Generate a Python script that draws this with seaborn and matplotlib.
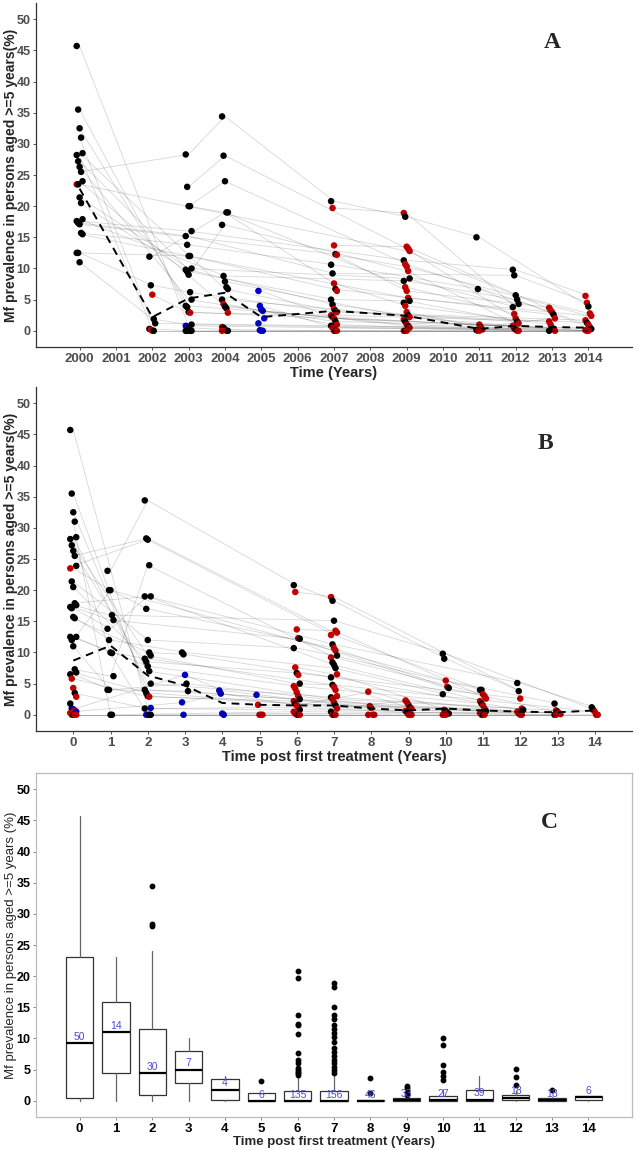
import matplotlib
matplotlib.use("Agg")
import matplotlib.pyplot as plt
import numpy as np
import pandas as pd
import seaborn as sns

# ---------------- Panel A: prevalence by survey year ----------------
a_years = [2000, 2002, 2003, 2004, 2005, 2007, 2009, 2011, 2012, 2013, 2014]
a_vals = [
    [45.7, 35.5, 32.5, 31.0, 28.5, 28.2, 27.2, 26.3, 25.5, 24.0, 23.5, 23.5,
     21.4, 20.5, 17.9, 17.6, 17.3, 17.1, 15.7, 15.5, 12.5, 12.5, 11.0],
    [11.9, 7.3, 5.8, 1.9, 1.2, 0.3, 0.2, 0.0, 0.0],
    [28.3, 23.1, 20.0, 20.0, 16.0, 15.2, 13.8, 12.0, 12.0, 10.0, 9.8, 9.5, 9.0,
     6.2, 5.0, 4.0, 3.8, 3.0, 2.9, 1.0, 0.8, 0.7, 0.5, 0.0, 0.0, 0.0, 0.0],
    [34.4, 28.1, 24.0, 19.0, 19.0, 17.0, 8.8, 7.9, 7.0, 6.7, 5.0, 4.3, 3.9, 3.6,
     2.9, 0.6, 0.5, 0.2, 0.0, 0.0, 0.0],
    [6.4, 4.0, 3.4, 3.2, 2.0, 1.2, 0.1, 0.0, 0.0],
    [20.8, 19.7, 13.7, 12.3, 12.2, 10.6, 9.2, 7.6, 6.7, 6.4, 5.0, 4.2, 3.5, 3.2,
     3.0, 2.5, 2.2, 2.0, 1.5, 1.0, 0.8, 0.5, 0.0, 0.0, 0.0],
    [18.9, 18.3, 13.5, 13.2, 12.8, 11.3, 10.7, 10.3, 9.6, 8.4, 8.0, 7.0, 6.4, 5.3,
     4.8, 4.5, 4.0, 3.0, 2.5, 2.2, 1.8, 1.5, 1.0, 0.8, 0.5, 0.0, 0.0, 0.0],
    [15.0, 6.7, 1.0, 0.6, 0.2, 0.1, 0.0, 0.0],
    [9.8, 8.9, 5.7, 5.0, 4.3, 3.8, 2.7, 2.0, 1.5, 1.2, 0.8, 0.4, 0.2, 0.0, 0.0],
    [3.7, 3.3, 3.0, 2.6, 2.0, 1.5, 1.0, 0.5, 0.3, 0.0, 0.0],
    [5.6, 4.5, 3.9, 2.8, 2.4, 1.7, 1.3, 1.0, 0.6, 0.3, 0.1, 0.0, 0.0],
]
a_cols = [
    "kkkkkkkkkkrkkkkkkkkkkkk",
    "kkrkkkrrk",
    "kkkkkkkkkkkkkkkkkkrkbbkkkkk",
    "kkkkkkkkkkkrkkrrkkrkr",
    "bbbbbbbbb",
    "krrkrkkrkrkkrkrrkrkrkrrkr",
    "rkrrrkrrrkkrrrkkrrkrrkrkrrkr",
    "kkrrrkrr",
    "kkkkkkrrkrrrkrr",
    "rrrkrrrrkrk",
    "rrkrrrkrrkrrr",
]
a_mean = [22.8, 2.2, 5.2, 6.1, 2.2, 3.2, 2.4, 0.3, 0.8, 0.6, 0.5]
a_paths = [
    [(2000, 45.7), (2003, 0.8), (2007, 0.5), (2012, 0.2)],
    [(2000, 35.5), (2003, 3.0), (2009, 1.5), (2014, 0.3)],
    [(2000, 32.5), (2003, 4.0), (2007, 2.2), (2013, 0.3)],
    [(2000, 31.0), (2002, 1.2), (2007, 0.8), (2012, 0.4)],
    [(2000, 28.5), (2004, 6.7), (2007, 3.2), (2012, 1.5)],
    [(2000, 28.2), (2002, 0.3), (2003, 0.0), (2009, 0.0), (2014, 0.0)],
    [(2000, 27.2), (2003, 9.8), (2007, 4.2), (2009, 2.5), (2014, 1.3)],
    [(2000, 26.3), (2003, 5.0), (2007, 1.5), (2012, 0.8)],
    [(2000, 25.5), (2003, 28.3), (2004, 34.4), (2007, 20.8), (2009, 18.3),
     (2011, 15.0), (2014, 3.9)],
    [(2000, 24.0), (2004, 3.9), (2009, 0.8), (2013, 0.0)],
    [(2000, 23.5), (2009, 12.8), (2012, 5.7), (2014, 2.8)],
    [(2000, 21.4), (2003, 10.0), (2009, 8.4), (2012, 3.8)],
    [(2000, 20.5), (2003, 9.5), (2007, 5.0), (2009, 4.8), (2012, 1.5)],
    [(2000, 17.9), (2004, 8.8), (2009, 8.0), (2012, 5.0), (2014, 0.6)],
    [(2000, 17.6), (2003, 16.0), (2009, 11.3), (2012, 9.8), (2014, 5.6)],
    [(2000, 17.3), (2003, 15.2), (2007, 9.2), (2012, 8.9), (2014, 4.5)],
    [(2000, 17.1), (2007, 12.3), (2009, 6.4), (2013, 3.7)],
    [(2000, 15.7), (2003, 13.8), (2007, 10.6), (2011, 6.7), (2012, 4.3)],
    [(2000, 15.5), (2003, 12.0), (2007, 6.7), (2013, 2.6)],
    [(2000, 12.5), (2003, 12.0), (2009, 5.3), (2014, 2.4)],
    [(2000, 12.5), (2002, 7.3), (2003, 6.2), (2007, 3.0), (2014, 1.7)],
    [(2000, 11.0), (2002, 1.9), (2003, 1.0), (2009, 0.5), (2014, 0.1)],
    [(2002, 11.9), (2004, 19.0), (2009, 7.0), (2012, 2.7)],
    [(2002, 5.8), (2003, 2.9), (2007, 2.5), (2013, 1.5)],
    [(2003, 23.1), (2004, 28.1), (2009, 13.2), (2012, 2.0)],
    [(2003, 20.0), (2004, 19.0), (2007, 7.6), (2009, 4.0), (2013, 1.0)],
    [(2003, 20.0), (2004, 24.0), (2009, 10.7), (2014, 1.0)],
    [(2003, 9.0), (2004, 17.0), (2009, 9.6), (2012, 1.2)],
    [(2004, 7.9), (2009, 2.2), (2012, 0.8)],
    [(2004, 5.0), (2007, 3.5), (2011, 1.0), (2014, 0.0)],
    [(2004, 4.3), (2007, 1.0), (2012, 0.0)],
    [(2005, 6.4), (2007, 2.0), (2013, 0.5)],
    [(2005, 4.0), (2007, 0.5), (2011, 0.2)],
    [(2005, 3.2), (2009, 1.0), (2014, 0.0)],
    [(2002, 0.0), (2003, 0.0), (2004, 0.0), (2005, 0.0), (2007, 0.0), (2009, 0.0),
     (2011, 0.0), (2012, 0.0), (2013, 0.0), (2014, 0.0)],
    [(2002, 0.0), (2003, 0.0), (2004, 0.0), (2007, 0.0), (2009, 0.0),
     (2011, 0.0), (2012, 0.0), (2014, 0.0)],
    [(2003, 0.0), (2005, 0.0), (2007, 0.0), (2009, 0.0), (2012, 0.0), (2013, 0.0)],
    [(2003, 0.5), (2004, 0.2), (2007, 0.0), (2011, 0.0), (2014, 0.0)],
    [(2007, 19.7), (2009, 18.9), (2012, 3.8)],
    [(2007, 13.7), (2009, 13.5), (2013, 3.3)],
    [(2007, 12.2), (2009, 10.3), (2014, 2.4)],
    [(2009, 3.0), (2011, 0.6), (2013, 2.0)],
    [(2011, 0.1), (2012, 0.4), (2014, 0.6)],
]

# ---------------- Panel B: prevalence by years since first treatment ----------------
b_times = list(range(15))
b_vals = [
    [45.7, 35.5, 32.5, 31.0, 28.5, 28.2, 27.2, 26.3, 25.5, 23.9, 23.5, 21.4, 20.5,
     17.9, 17.6, 17.3, 17.1, 15.7, 15.5, 12.5, 12.5, 12.0, 11.0, 7.3, 6.8, 6.5,
     5.8, 4.3, 3.5, 2.9, 1.8, 1.0, 0.9, 0.7, 0.5, 0.3, 0.0, 0.0, 0.0, 0.0],
    [23.1, 20.0, 20.0, 16.0, 15.2, 13.8, 12.0, 10.0, 9.9, 6.2, 4.0, 4.0, 0.0, 0.0],
    [34.4, 28.3, 28.1, 24.0, 19.0, 19.0, 17.0, 12.0, 10.0, 9.5, 9.0, 8.5, 7.8,
     7.0, 5.0, 4.0, 3.5, 3.0, 2.9, 1.1, 1.0, 0.0, 0.0, 0.0, 0.0],
    [10.0, 9.7, 6.4, 5.0, 3.8, 2.0, 0.0],
    [3.9, 3.4, 0.2, 0.0],
    [3.2, 1.6, 0.0, 0.0, 0.0],
    [20.8, 19.7, 13.7, 12.3, 12.2, 10.7, 7.6, 6.7, 6.4, 5.0, 4.6, 4.2, 3.6, 3.0,
     2.5, 2.2, 1.8, 1.5, 1.2, 0.8, 0.5, 0.2, 0.0, 0.0, 0.0],
    [18.9, 18.3, 15.1, 13.5, 13.2, 12.8, 11.3, 10.7, 10.3, 9.5, 9.2, 8.4, 8.0,
     7.5, 6.5, 6.0, 4.8, 4.5, 4.0, 3.0, 2.8, 2.5, 2.0, 1.5, 1.0, 0.5, 0.0, 0.0, 0.0],
    [3.7, 1.4, 1.1, 0.0, 0.0, 0.0],
    [2.3, 2.0, 1.6, 1.2, 1.0, 0.6, 0.4, 0.0, 0.0, 0.0],
    [9.8, 9.0, 5.5, 4.5, 4.3, 3.3, 0.8, 0.6, 0.3, 0.2, 0.0, 0.0, 0.0],
    [4.0, 4.0, 3.3, 3.0, 2.6, 2.2, 1.8, 1.5, 1.0, 0.6, 0.3, 0.0, 0.0, 0.0],
    [5.1, 3.8, 2.6, 1.0, 0.8, 0.5, 0.2, 0.0, 0.0],
    [1.8, 0.7, 0.5, 0.3, 0.1, 0.0, 0.0],
    [1.2, 0.8, 0.5, 0.0, 0.0],
]
b_cols = [
    "kkkkkkkkkkrkkkkkkkkkkkkkkkrrkrkkbrbrrkrr",
    "kkkkkkkkkkkkkk",
    "kkkkkkkkkkkkkkkkkkrbkbbkk",
    "kkbkkbb",
    "bbbb",
    "brrrr",
    "krrrkkrkrkrrrrkrkrrkrrrkr",
    "rkkrrrkrrkrkkkrkkrrrkrrkrkrkr",
    "rrrrrr",
    "rrrkrrkrrr",
    "kkrrkkrkrkrrr",
    "kkrrrrkrrkrrkr",
    "kkrrkrrrr",
    "krkrrkr",
    "kkrrr",
]
b_mean = [8.7, 11.1, 6.3, 4.7, 1.9, 1.6, 1.5, 1.5, 1.0, 0.7, 1.0, 0.7, 0.5, 0.4, 0.7]
b_paths = [
    [(0, 45.7), (2, 1.0), (6, 0.8), (11, 0.6)],
    [(0, 35.5), (2, 3.0), (7, 1.5), (13, 0.3)],
    [(0, 32.5), (2, 4.0), (6, 2.5), (12, 0.5)],
    [(0, 31.0), (1, 0.0), (6, 0.5), (11, 0.3)],
    [(0, 28.5), (2, 5.0), (7, 2.8), (12, 1.0)],
    [(0, 28.2), (1, 9.9), (2, 0.0), (7, 0.0), (14, 0.0)],
    [(0, 27.2), (2, 9.5), (6, 5.0), (7, 4.8), (14, 0.5)],
    [(0, 26.3), (2, 7.0), (7, 2.5), (13, 0.7)],
    [(0, 25.5), (2, 28.3), (7, 13.2)],
    [(1, 23.1), (2, 34.4), (6, 20.8), (7, 18.3), (10, 9.0), (12, 3.8)],
    [(0, 23.9), (2, 28.1), (7, 12.8), (11, 4.0)],
    [(0, 23.5), (1, 20.0), (7, 10.3), (10, 5.5), (13, 1.8)],
    [(0, 21.4), (2, 12.0), (6, 10.7), (7, 9.5), (11, 4.0)],
    [(0, 20.5), (2, 8.5), (6, 6.7), (12, 2.6)],
    [(0, 17.9), (2, 19.0), (7, 11.3), (12, 5.1), (14, 1.2)],
    [(0, 17.6), (1, 16.0), (7, 15.1), (10, 9.8), (14, 0.8)],
    [(0, 17.3), (1, 15.2), (6, 12.2), (10, 4.3), (13, 0.5)],
    [(0, 17.1), (1, 13.8), (2, 19.0), (7, 8.0), (11, 2.2)],
    [(0, 15.7), (1, 12.0), (3, 10.0), (7, 7.5), (10, 3.3)],
    [(0, 15.5), (2, 10.0), (3, 9.7), (7, 6.0), (12, 0.8)],
    [(0, 12.5), (1, 10.0), (2, 9.0), (7, 4.8), (9, 1.2)],
    [(0, 12.5), (2, 7.8), (6, 4.6), (11, 1.8)],
    [(0, 12.0), (1, 20.0), (2, 17.0), (7, 10.7), (10, 4.5)],
    [(0, 11.0), (1, 4.0), (3, 5.0), (6, 3.0), (9, 1.0)],
    [(0, 7.3), (1, 6.2), (2, 24.0), (7, 9.2), (11, 3.3)],
    [(0, 6.8), (2, 3.5), (6, 1.8), (10, 0.6)],
    [(0, 6.5), (1, 4.0), (3, 3.8), (7, 2.0), (12, 0.2)],
    [(0, 3.5), (2, 1.0), (6, 1.2), (9, 0.4), (13, 0.0)],
    [(0, 5.8), (2, 2.9), (6, 2.2), (8, 1.4), (11, 1.0)],
    [(0, 0.9), (3, 6.4), (4, 3.9), (5, 3.2), (8, 1.1)],
    [(0, 0.5), (3, 2.0), (4, 3.4), (6, 1.5), (9, 0.6)],
    [(0, 0.0), (1, 0.0), (2, 0.0), (3, 0.0), (4, 0.0), (5, 0.0), (6, 0.0), (7, 0.0),
     (8, 0.0), (9, 0.0), (10, 0.0), (11, 0.0), (12, 0.0), (13, 0.0), (14, 0.0)],
    [(0, 0.0), (2, 0.0), (5, 0.0), (6, 0.0), (7, 0.0), (8, 0.0), (9, 0.0),
     (10, 0.0), (11, 0.0), (12, 0.0), (13, 0.0)],
    [(0, 0.0), (1, 0.0), (2, 0.0), (4, 0.0), (6, 0.0), (7, 0.0), (9, 0.0),
     (10, 0.0), (11, 0.0), (14, 0.0)],
    [(6, 19.7), (7, 18.9), (12, 3.8)],
    [(6, 13.7), (7, 13.5), (11, 3.0)],
    [(6, 7.6), (7, 6.5), (10, 0.8), (13, 0.3)],
    [(7, 1.0), (9, 2.3), (12, 0.5)],
    [(5, 1.6), (6, 1.5), (8, 3.7), (9, 2.0)],
    [(4, 0.2), (6, 0.2), (11, 0.3), (14, 0.5)],
]

# ---------------- Panel C: box summaries by years since first treatment ----------------
c_q1 = [0.5, 4.5, 1.0, 2.9, 0.1, 0.0, 0.0, 0.0, 0.0, 0.0, 0.0, 0.0, 0.1, 0.0, 0.1]
c_med = [9.2, 11.0, 4.4, 5.0, 1.8, 0.0, 0.0, 0.0, 0.0, 0.05, 0.05, 0.2, 0.5, 0.1, 0.6]
c_q3 = [23.0, 15.9, 11.5, 8.0, 3.5, 1.2, 1.55, 1.6, 0.05, 0.4, 0.75, 1.7, 0.9, 0.5, 0.75]
c_whislo = [0.0] * 15
c_whishi = [45.7, 23.1, 24.0, 10.0, 4.0, 1.2, 3.8, 3.9, 0.05, 0.9, 1.8, 4.0, 1.5, 0.6, 0.8]
c_fliers = [
    [], [], [28.0, 28.3, 34.4], [], [], [3.2],
    [4.2, 4.4, 4.7, 5.0, 5.2, 6.0, 6.6, 7.6, 10.7, 12.2, 12.4, 13.8, 19.7, 20.8],
    [4.4, 4.9, 5.4, 6.0, 6.6, 7.2, 7.9, 8.5, 9.5, 10.2, 10.8, 11.5, 12.2, 13.2,
     13.7, 15.1, 18.3, 18.9],
    [1.2, 3.7], [1.0, 1.4, 2.0, 2.3], [3.3, 3.9, 4.6, 5.7, 9.0, 10.0], [],
    [2.6, 3.8, 5.1], [1.8], [],
]
c_n = [50, 14, 30, 7, 4, 6, 135, 156, 46, 33, 27, 39, 18, 18, 6]

ylab_ab = "Mf prevalence in persons aged >=5 years(%)"
ylab_c = "Mf prevalence in persons aged >=5 years (%)"


def points_frame(xs, vals, cols):
    rows = []
    for x, vs, cs in zip(xs, vals, cols):
        for i, (v, c) in enumerate(zip(vs, cs)):
            rows.append({"x": x + ((i % 5) - 2) * 0.04, "y": v, "col": c})
    return pd.DataFrame(rows)


def paths_frame(paths):
    rows = []
    for sid, path in enumerate(paths):
        for x, y in path:
            rows.append({"site": sid, "x": x, "y": y})
    return pd.DataFrame(rows)


sns.set_style("white")
plt.rcParams["font.family"] = ["Liberation Sans", "DejaVu Sans"]
palette = {"k": "black", "r": "#c40000", "b": "#0000c8"}

fig = plt.figure(figsize=(6.35, 11.5), dpi=100)
ax_a = fig.add_axes([36 / 635, 1 - 347 / 1150, 596 / 635, 344 / 1150])
ax_b = fig.add_axes([36 / 635, 1 - 731 / 1150, 596 / 635, 344 / 1150])
ax_c = fig.add_axes([36 / 635, 1 - 1117 / 1150, 596 / 635, 344 / 1150])


def draw_scatter_panel(ax, xs, vals, cols, paths, mean):
    sns.lineplot(paths_frame(paths), x="x", y="y", units="site", estimator=None,
                 color="black", alpha=0.16, lw=0.6, ax=ax)
    sns.scatterplot(points_frame(xs, vals, cols), x="x", y="y", hue="col",
                    palette=palette, s=22, linewidth=0, legend=False, ax=ax)
    sns.lineplot(x=xs, y=mean, color="black", lw=1.4, ax=ax,
                 linestyle=(0, (4, 3)))
    ax.set_ylim(-2.6, 52.6)
    ax.set_yticks(range(0, 51, 5))
    for s in ["top", "right"]:
        ax.spines[s].set_visible(False)
    for s in ["left", "bottom"]:
        ax.spines[s].set_color("#333333")
        ax.spines[s].set_linewidth(0.9)
    ax.tick_params(length=2.5, width=0.7, color="#555555", labelcolor="#4d4d4d",
                   labelsize=9, pad=1.5, bottom=True, left=True)
    ax.tick_params(axis="x", labelsize=9.5)
    for lab in ax.get_xticklabels() + ax.get_yticklabels():
        lab.set_fontweight("bold")
    ax.set_ylabel(ylab_ab, fontsize=10, fontweight="bold")
    ax.yaxis.set_label_coords(-0.031, 0.5)


# Panel A
draw_scatter_panel(ax_a, a_years, a_vals, a_cols, a_paths, a_mean)
ax_a.set_xlim(1998.8, 2015.2)
ax_a.set_xticks(range(2000, 2015))
for lab in ax_a.get_xticklabels():
    lab.set_fontweight("bold")
ax_a.set_xlabel("Time (Years)", fontsize=10.5, fontweight="bold", labelpad=1)
ax_a.text(0.866, 0.884, "A", transform=ax_a.transAxes, fontsize=17,
          fontweight="bold", family="Liberation Serif", ha="center", va="center")

# Panel B
draw_scatter_panel(ax_b, b_times, b_vals, b_cols, b_paths, b_mean)
ax_b.set_xlim(-1.0, 15.0)
ax_b.set_xticks(b_times)
for lab in ax_b.get_xticklabels():
    lab.set_fontweight("bold")
ax_b.set_xlabel("Time post first treatment (Years)", fontsize=10.5,
                fontweight="bold", labelpad=1)
ax_b.text(0.854, 0.837, "B", transform=ax_b.transAxes, fontsize=17,
          fontweight="bold", family="Liberation Serif", ha="center", va="center")

# Panel C
stats = [
    {"q1": q1, "med": md, "q3": q3, "whislo": lo, "whishi": hi, "fliers": fl}
    for q1, md, q3, lo, hi, fl in zip(c_q1, c_med, c_q3, c_whislo, c_whishi, c_fliers)
]
ax_c.bxp(stats, positions=b_times, widths=0.75, showcaps=False, patch_artist=True,
         boxprops=dict(facecolor="white", edgecolor="#333333", linewidth=0.9),
         whiskerprops=dict(color="#666666", linewidth=0.9),
         medianprops=dict(color="black", linewidth=1.6),
         flierprops=dict(marker="o", markerfacecolor="black", markeredgecolor="black",
                         markersize=3.2))
for x, md, n in zip(b_times, c_med, c_n):
    ax_c.text(x, md + 1.0, str(n), color="#4a4ad8", fontsize=7.5, ha="center",
              va="center")
ax_c.set_xlim(-1.2, 15.2)
ax_c.set_ylim(-2.6, 52.6)
ax_c.set_yticks(range(0, 51, 5))
ax_c.set_xticks(b_times)
ax_c.set_xticklabels([str(t) for t in b_times])
for s in ax_c.spines.values():
    s.set_visible(True)
    s.set_color("#bbbbbb")
    s.set_linewidth(0.9)
ax_c.tick_params(length=2.5, width=0.7, color="#888888", labelcolor="black",
                 labelsize=9, pad=1.5, bottom=True, left=True)
ax_c.tick_params(axis="x", labelsize=9.5)
for lab in ax_c.get_xticklabels() + ax_c.get_yticklabels():
    lab.set_fontweight("bold")
ax_c.set_ylabel(ylab_c, fontsize=9.5)
ax_c.yaxis.set_label_coords(-0.032, 0.5)
ax_c.set_xlabel("Time post first treatment (Years)", fontsize=9.5,
                fontweight="semibold", labelpad=1)
ax_c.text(0.862, 0.855, "C", transform=ax_c.transAxes, fontsize=17,
          fontweight="bold", family="Liberation Serif", ha="center", va="center")

fig.savefig("out.png", dpi=100)
